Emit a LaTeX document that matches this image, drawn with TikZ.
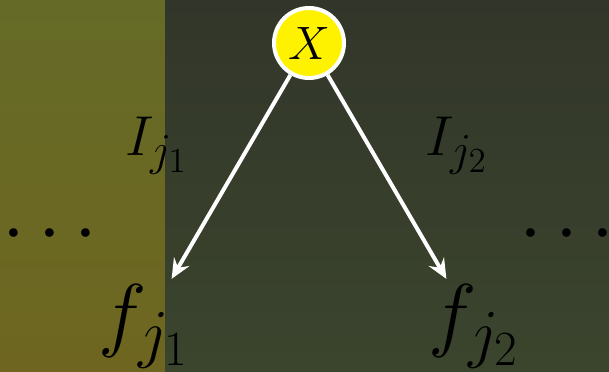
\documentclass[tikz,border=0pt]{standalone}
\usepackage{fix-cm}
\usetikzlibrary{arrows.meta}
\definecolor{lefttop}{RGB}{101,107,39}
\definecolor{leftbot}{RGB}{110,102,32}
\definecolor{righttop}{RGB}{50,54,42}
\definecolor{rightbot}{RGB}{59,69,45}
\DeclareMathSizes{24}{24}{19.5}{15}
\DeclareMathSizes{35}{35}{28}{21}

\begin{document}
\begin{tikzpicture}[
  x=0.015cm, y=-0.015cm, >={Stealth[length=8.5pt, width=7.5pt, inset=3pt]},
  root/.style={circle, draw=white, fill=yellow, line width=1.7pt, minimum size=1.05cm, inner sep=0pt, font=\fontsize{20}{24}\selectfont},
  idx/.style={anchor=base, inner sep=1pt, font=\fontsize{24}{29}\selectfont},
  leaf/.style={anchor=base, inner sep=1pt, font=\fontsize{35}{42}\selectfont},
  edge/.style={->, draw=white, line width=1.7pt},
]
  \useasboundingbox (0,0) rectangle (609,371);
  \shade[top color=lefttop, bottom color=leftbot] (0,0) rectangle (165,371);
  \shade[top color=righttop, bottom color=rightbot] (165,0) rectangle (609,371);

  \node[root] (x) at (309,43) {$X$};
  \node[idx] (i1) at (157,155) {$I_{j_1}$};
  \node[idx] (i2) at (457,155) {$I_{j_2}$};
  \node[leaf, inner ysep=2pt] (f1) at (144,341) {$f_{j_1}$};
  \node[leaf, inner ysep=2pt] (f2) at (474,341) {$f_{j_2}$};
  \node[leaf] (dl) at (50,253) {$\cdots$};
  \node[leaf] (dr) at (567,253) {$\cdots$};

  \draw[edge] (x) -- (f1);
  \draw[edge] (x) -- (f2);
\end{tikzpicture}
\end{document}
